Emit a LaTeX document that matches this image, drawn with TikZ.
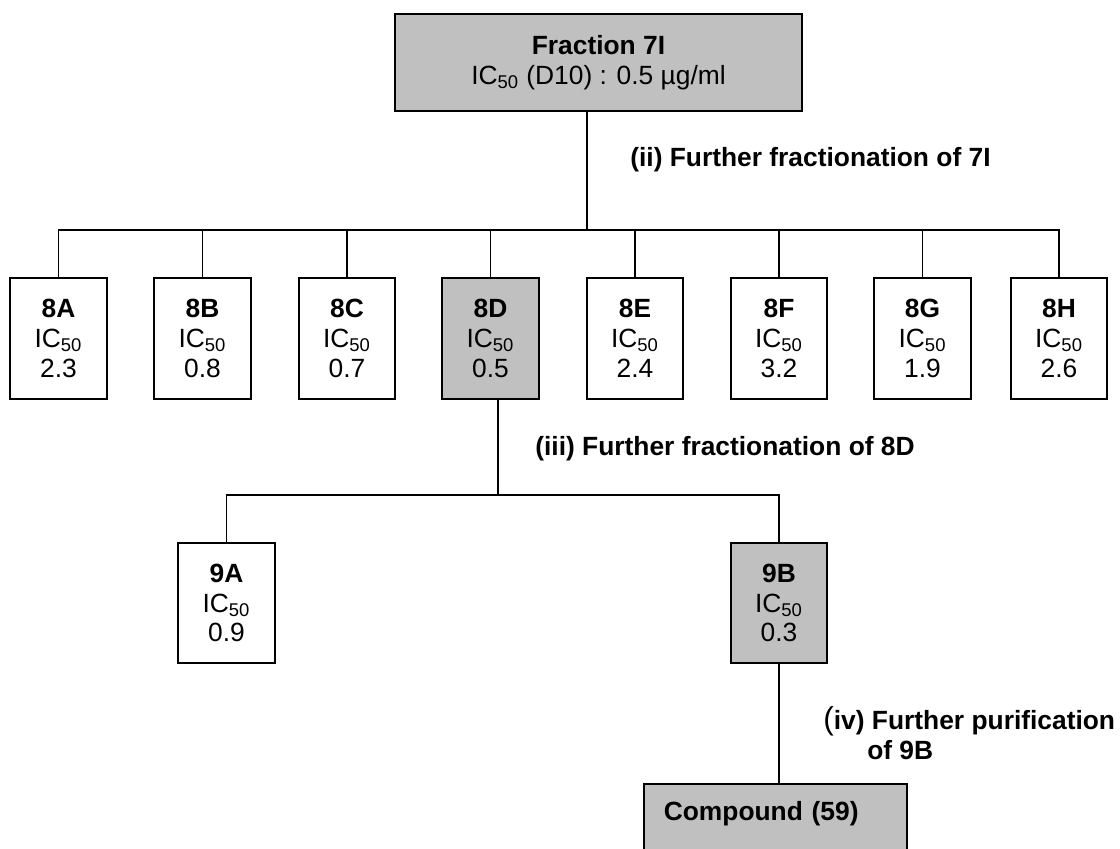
\documentclass[tikz,border=0pt]{standalone}
\usepackage{fontspec}
\setmainfont{Liberation Sans}
\definecolor{fracgray}{RGB}{192,192,192}
\newcommand{\icf}{IC\textsubscript{50}}

\begin{document}
\begin{tikzpicture}[scale=0.2]
\tikzstyle{every node}+=[inner sep=0pt, font=\fontsize{15}{17}\selectfont]
\tikzstyle{frac}=[draw, line width=1pt, minimum width=55pt, minimum height=68.6pt, align=center]
\tikzstyle{hit}=[frac, fill=fracgray]
\tikzstyle{link}=[line width=1pt]
\useasboundingbox (0,0) rectangle (112,-84.8);
% fraction 7I
\node[hit, minimum width=231.9pt, minimum height=55pt] (f7I) at (59.85,-6.25) {\textbf{Fraction 7I}\\\icf{} (D10) : 0.5 µg/ml};
% fractions 8A-8H
\foreach \n/\x/\v in {A/5.85/2.3, B/20.25/0.8, C/34.7/0.7, E/63.5/2.4, F/77.9/3.2, G/92.25/1.9, H/105.9/2.6}
  \node[frac] (f8\n) at (\x,-33.85) {\textbf{8\n}\\\icf\\\v};
\node[hit] (f8D) at (49.05,-33.85) {\textbf{8D}\\\icf\\0.5};
% fractions 9A, 9B
\node[frac] (f9A) at (22.65,-60.3) {\textbf{9A}\\\icf\\0.9};
\node[hit] (f9B) at (77.9,-60.3) {\textbf{9B}\\\icf\\0.3};
\node[hit, anchor=north west, minimum width=149.7pt, minimum height=0pt, text width=127pt, align=left, inner xsep=11.3pt, inner ysep=10pt, text depth=16pt] (c59) at (64.3,-78.3) {\textbf{Compound (59)}};
% steps
\node[anchor=west] (lblii) at (63.0,-16.0) {\textbf{(ii) Further fractionation of 7I}};
\node[anchor=west] (lbliii) at (53.5,-44.9) {\textbf{(iii) Further fractionation of 8D}};
\node[anchor=north west, align=left] (lbliv) at (82.3,-70.6) {{\fontsize{18}{18}\selectfont(}\textbf{iv) Further purification}\\\hspace*{25pt}\textbf{of 9B}};
% links
\coordinate (j7I) at (58.7,-23.0);
\draw[link] (f7I.south -| j7I) -- (j7I);
\foreach \n in {A,...,H}
  \draw[link] (f8\n.north) |- (j7I);
\coordinate (j8D) at (49.8,-49.5);
\draw[link] (f8D.south -| j8D) -- (j8D);
\draw[link] (f9A.north) |- (j8D);
\draw[link] (f9B.north) |- (j8D);
\draw[link] (f9B.south) -- (f9B.south |- c59.north);
\end{tikzpicture}
\end{document}
